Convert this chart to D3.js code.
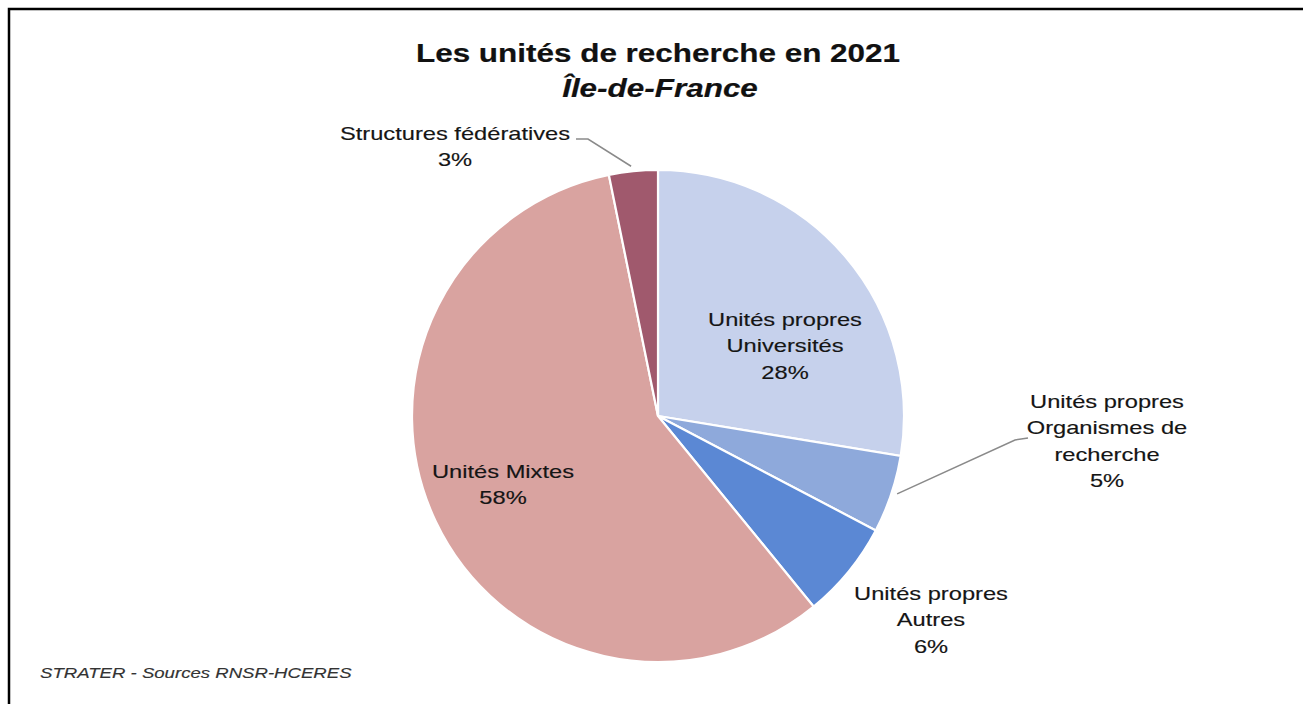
<!DOCTYPE html>
<html><head><meta charset="utf-8">
<script src="https://cdn.jsdelivr.net/npm/d3@7"></script>
<style>html,body{margin:0;padding:0;background:#fff;overflow:hidden}</style>
</head><body>
<svg id="c" width="1303" height="704"></svg>
<script>
const categories = ["Unités propres Universités", "Unités propres Organismes de recherche", "Unités propres Autres", "Unités Mixtes", "Structures fédératives"];
const labelLines = [["Unités propres","Universités"],["Unités propres","Organismes de","recherche"],["Unités propres","Autres"],["Unités Mixtes"],["Structures fédératives"]];
const values = [27.6, 5.1, 6.4, 57.7, 3.2];
const colors = ["#C6D1EC", "#8EA9DB", "#5B88D4", "#D9A3A0", "#A0596D"];
const title = "Les unités de recherche en 2021";
const subtitle = "Île-de-France";
const source = "STRATER - Sources RNSR-HCERES";

const svg = d3.select("#c");
svg.append("rect").attr("x",9).attr("y",9).attr("width",1400).attr("height",900)
  .attr("fill","#fff").attr("stroke","#000").attr("stroke-width",2.5);

const cx = 658, cy = 416, R = 246;
const pie = d3.pie().sort(null).value(d=>d);
const arcs = pie(values);
const arc = d3.arc().innerRadius(0).outerRadius(R);
const g = svg.append("g").attr("transform",`translate(${cx},${cy})`);
g.selectAll("path").data(arcs).join("path")
  .attr("d",arc).attr("fill",(d,i)=>colors[i])
  .attr("stroke","#fff").attr("stroke-width",2.2).attr("stroke-linejoin","miter");

const font = "'Liberation Sans', Arial, sans-serif";
function textBlock(x,y,lines,size,sx,opts={}){
  const fill = opts.fill||"#151515";
  const t = svg.append("g").attr("transform",`translate(${x},${y}) scale(${sx},1)`)
    .append("text").attr("text-anchor",opts.anchor||"middle")
    .attr("font-family",font).attr("font-size",size)
    .attr("font-weight",opts.weight||"normal").attr("font-style",opts.style||"normal")
    .attr("fill",fill).attr("stroke",fill).attr("stroke-width",opts.sw==null?0.15:opts.sw);
  lines.forEach((l,i)=>t.append("tspan").attr("x",0).attr("dy",i===0?0:(opts.lh||26)).text(l));
  return t;
}
textBlock(658,62,[title],26,1.21,{weight:"bold",fill:"#111",sw:0.2});
textBlock(660,97,[subtitle],26,1.21,{weight:"bold",style:"italic",fill:"#111",sw:0.2});

const pct = values.map(v=>Math.round(v)+"%");
const labelPos = [[785,326],[1107,408],[931,600],[503,478],[455,140]];
const labelSize = 18.5, labelSx = 1.28;
arcs.forEach((a,i)=>{
  textBlock(labelPos[i][0],labelPos[i][1],[...labelLines[i],pct[i]],labelSize,labelSx,{lh:26.5});
});

// leader lines
const outer = d3.arc().innerRadius(R+2).outerRadius(R+2);
const line = d3.line();
const pOrg = outer.centroid(arcs[1]);
svg.append("path").attr("d",line([[cx+pOrg[0]+4,cy+pOrg[1]-1],[1015,440],[1028,438]]))
  .attr("fill","none").attr("stroke","#8a8a8a").attr("stroke-width",1.5);
const pStr = outer.centroid(arcs[4]);
svg.append("path").attr("d",line([[cx+pStr[0]-2,cy+pStr[1]-3],[588,139],[576,139]]))
  .attr("fill","none").attr("stroke","#8a8a8a").attr("stroke-width",1.5);

textBlock(40,678,[source],15.5,1.2,{anchor:"start",style:"italic",fill:"#333",sw:0.15});
</script>
</body></html>
